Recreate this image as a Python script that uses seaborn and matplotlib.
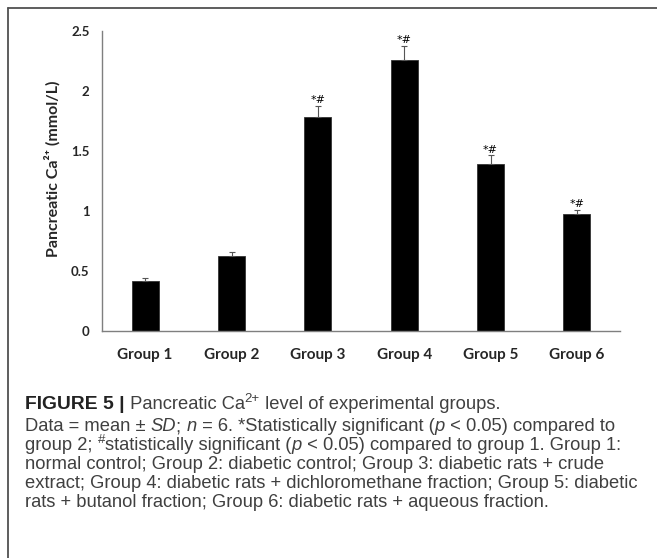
import matplotlib
matplotlib.use("Agg")
import matplotlib.pyplot as plt
from matplotlib.lines import Line2D
import numpy as np
import pandas as pd
import seaborn as sns

# Pancreatic Ca2+ (mmol/L), mean and SD per group
groups = ["Group 1", "Group 2", "Group 3", "Group 4", "Group 5", "Group 6"]
means = [0.42, 0.625, 1.785, 2.255, 1.39, 0.972]
sds = [0.02, 0.035, 0.09, 0.12, 0.075, 0.04]
sig_marks = ["", "", "*#", "*#", "*#", "*#"]
yticks = [0, 0.5, 1, 1.5, 2, 2.5]
ytick_labels = ["0", "0.5", "1", "1.5", "2", "2.5"]

df = pd.DataFrame({"group": groups, "mean": means, "sd": sds})

sns.set_theme(style="white")
plt.rcParams["font.family"] = ["Lato", "DejaVu Sans"]

W, H = 657, 558
fig = plt.figure(figsize=(W / 100, H / 100), dpi=100)
fig.patch.set_facecolor("white")

def px(x0, y0, x1, y1):
    return [x0 / W, 1 - y1 / H, (x1 - x0) / W, (y1 - y0) / H]

ax = fig.add_axes(px(102, 31, 620, 331))

sns.barplot(data=df, x="group", y="mean", color="black", width=0.31,
            errorbar=None, saturation=1, ax=ax, edgecolor="#333333", linewidth=0.6)

xpos = np.arange(len(groups))
ax.errorbar(xpos, df["mean"], yerr=[np.zeros(len(groups)), df["sd"]],
            fmt="none", ecolor="#555555", elinewidth=0.8, capsize=2.3, capthick=0.8)

for x, m, s, mark in zip(xpos, means, sds, sig_marks):
    if mark:
        ax.annotate(mark, (x, m + s), xytext=(0, 0.5), textcoords="offset points",
                    ha="center", va="bottom", fontsize=8, color="black",
                    family=["DejaVu Sans"])

ax.set_ylim(0, 2.5)
ax.set_xlim(-0.5, len(groups) - 0.5)
ax.set_yticks(yticks)
ax.set_yticklabels(ytick_labels, fontsize=9.5, fontweight="bold")
ax.tick_params(axis="y", length=0, pad=9)
ax.tick_params(axis="x", length=0, pad=12, labelsize=11)
for lab in ax.get_xticklabels():
    lab.set_fontweight("bold")
ax.set_xlabel("")
ax.set_ylabel("Pancreatic Ca\u00b2\u207a (mmol/L)", fontsize=11.5, fontweight="bold",
              family=["Lato", "DejaVu Sans"])
ax.yaxis.set_label_coords(-0.095, 0.54)
ax.yaxis.label.set_va("center")
for side in ["top", "right"]:
    ax.spines[side].set_visible(False)
for side in ["left", "bottom"]:
    ax.spines[side].set_color("#7f7f7f")
    ax.spines[side].set_linewidth(1.0)
ax.patch.set_alpha(0)

# frame around the figure panel
fig.add_artist(Line2D([7.5 / W, 1.0], [1 - 8 / H, 1 - 8 / H], transform=fig.transFigure,
                      color="#505050", lw=1.3))
fig.add_artist(Line2D([7.5 / W, 7.5 / W], [0, 1 - 8 / H], transform=fig.transFigure,
                      color="#505050", lw=1.3))

# caption
renderer = fig.canvas.get_renderer()
cap_color = "#404040"
base = dict(family=["Liberation Sans", "DejaVu Sans"], weight="normal", color=cap_color)

def seg_width(text, props):
    t1 = fig.text(0, 0, "|" + text + "|", **props)
    t2 = fig.text(0, 0, "||", **props)
    w = t1.get_window_extent(renderer).width - t2.get_window_extent(renderer).width
    t1.remove()
    t2.remove()
    return w

def draw_line(x0, y_base, segs, size):
    x = x0
    for text, style in segs:
        props = dict(base)
        props["fontsize"] = size
        dy = 0
        if style == "b":
            props["weight"] = "bold"
            props["family"] = ["Liberation Sans Narrow", "Liberation Sans", "DejaVu Sans"]
            props["fontsize"] = size * 1.05
            props["color"] = "#222222"
        elif style == "i":
            props["style"] = "italic"
        elif style == "sup":
            props["fontsize"] = size * 0.72
            dy = size * 0.36 * 100 / 72
        fig.text(x / W, 1 - (y_base - dy) / H, text, va="baseline", ha="left", **props)
        x += seg_width(text, props)

lines = [
    [("FIGURE 5 |", "b"), (" Pancreatic Ca", ""), ("2+", "sup"), (" level of experimental groups.", "")],
    [("Data = mean \u00b1 ", ""), ("SD", "i"), ("; ", ""), ("n", "i"),
     (" = 6. *Statistically significant (", ""), ("p", "i"), (" < 0.05) compared to", "")],
    [("group 2; ", ""), ("#", "sup"), ("statistically significant (", ""), ("p", "i"),
     (" < 0.05) compared to group 1. Group 1:", "")],
    [("normal control; Group 2: diabetic control; Group 3: diabetic rats + crude", "")],
    [("extract; Group 4: diabetic rats + dichloromethane fraction; Group 5: diabetic", "")],
    [("rats + butanol fraction; Group 6: diabetic rats + aqueous fraction.", "")],
]
baselines = [409, 431, 450, 469, 488, 507]

# size the caption so the widest line fills the panel width
trial = 10.0
wtest = seg_width(lines[4][0][0], dict(base, fontsize=trial))
cap_size = trial * 614 / wtest

for segs, yb in zip(lines, baselines):
    draw_line(25, yb, segs, cap_size)

fig.savefig("out.png", dpi=100, facecolor="white")
